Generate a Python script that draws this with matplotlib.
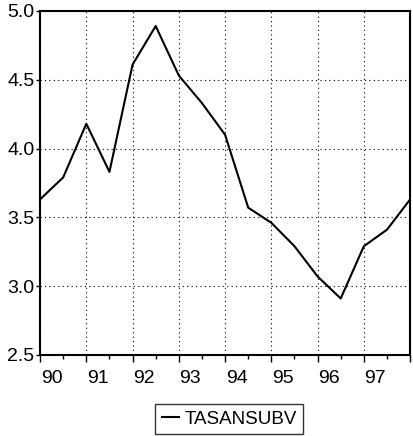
import numpy as np
import matplotlib
matplotlib.use("Agg")
import matplotlib.pyplot as plt
from matplotlib.ticker import FixedLocator, MultipleLocator, NullFormatter

plt.rcParams['font.family'] = ['Liberation Sans', 'DejaVu Sans']

# semiannual observations, 1990 to 1998
periods = [1990.0 + 0.5 * i for i in range(17)]
tasansubv = [3.63, 3.79, 4.18, 3.83, 4.61, 4.89, 4.53, 4.33, 4.10,
             3.57, 3.46, 3.29, 3.07, 2.91, 3.29, 3.41, 3.63]
year_labels = ['90', '91', '92', '93', '94', '95', '96', '97']
years = list(range(1990, 1998))

fig = plt.figure(figsize=(4.13, 4.36), dpi=100)
ax = fig.add_axes([0.097, 0.186, 0.896, 0.789])

line, = ax.plot(periods, tasansubv, color='black', lw=1.5, label='TASANSUBV')

ax.set_xlim(1990, 1998)
ax.set_ylim(2.5, 5.0)

# major ticks at year starts, labels placed mid-way into the first half-year
ax.xaxis.set_major_locator(FixedLocator(years + [1998]))
ax.xaxis.set_major_formatter(NullFormatter())
ax.xaxis.set_minor_locator(MultipleLocator(0.5))
ax.tick_params(axis='x', which='major', direction='out', length=5, width=1)
ax.tick_params(axis='x', which='minor', direction='out', length=3, width=1)
for yr, lab in zip(years, year_labels):
    ax.text(yr + 0.25, -0.045, lab, transform=ax.get_xaxis_transform(),
            ha='center', va='top', fontsize=14)

ax.set_yticks([2.5, 3.0, 3.5, 4.0, 4.5, 5.0])
ax.set_yticklabels(['2.5', '3.0', '3.5', '4.0', '4.5', '5.0'], fontsize=14)
ax.tick_params(axis='y', direction='out', length=3, width=1, pad=1)

ax.grid(True, color='black', linestyle=(0, (1, 3)), lw=0.8)
for s in ax.spines.values():
    s.set_linewidth(1.5)

leg = fig.legend(handles=[line], loc='center', bbox_to_anchor=(0.555, 0.039),
                 fontsize=13.5, frameon=True, fancybox=False, handlelength=0.9,
                 handletextpad=0.3, borderpad=0.35, borderaxespad=0)
leg.get_frame().set_edgecolor('black')
leg.get_frame().set_linewidth(1.0)

fig.savefig('out.png', dpi=100)
